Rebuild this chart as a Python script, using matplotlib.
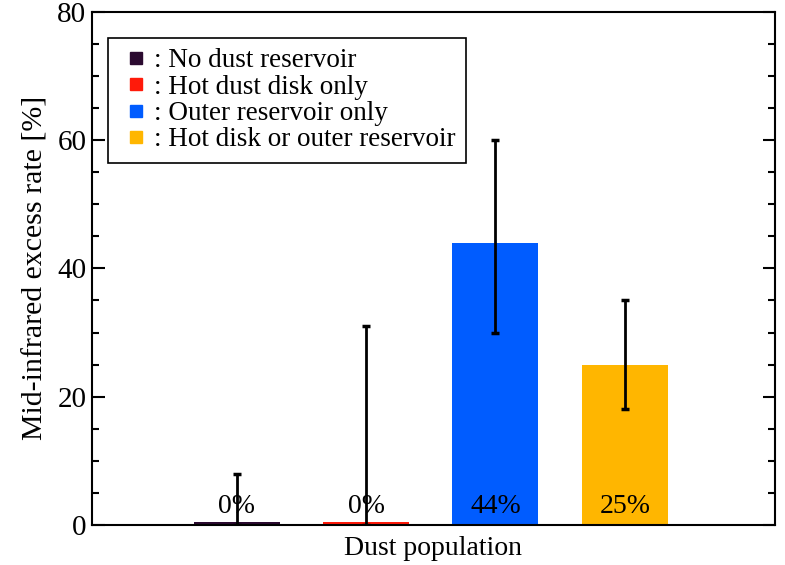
import matplotlib
matplotlib.use("Agg")
import matplotlib.pyplot as plt
from matplotlib.lines import Line2D
from matplotlib.ticker import MultipleLocator

plt.rcParams["font.family"] = ["Liberation Serif", "DejaVu Serif"]
plt.rcParams["mathtext.fontset"] = "stix"

# data
groups = ["No dust reservoir", "Hot dust disk only", "Outer reservoir only",
          "Hot disk or outer reservoir"]
rates = [0.5, 0.5, 44, 25]
err_low = [0, 0, 30, 18]
err_high = [8, 31, 60, 35]
labels = ["0%", "0%", "44%", "25%"]
colors = ["#2b0a30", "#ff1a0a", "#005cff", "#ffb600"]

x = [1, 2, 3, 4]

fig = plt.figure(figsize=(7.85, 5.65), dpi=100)
ax = fig.add_axes([0.117, 0.071, 0.870, 0.908])

ax.bar(x, rates, width=0.665, color=colors, zorder=2)
lo = [r - l for r, l in zip(rates, err_low)]
hi = [h - r for r, h in zip(rates, err_high)]
ax.errorbar(x, rates, yerr=[lo, hi], fmt="none", ecolor="black",
            elinewidth=2, capsize=3, capthick=2.5, zorder=3)

for xi, lab in zip(x, labels):
    ax.text(xi, 2.8, lab, ha="center", va="center", fontsize=20, zorder=4)

ax.set_xlim(-0.12, 5.16)
ax.set_ylim(0, 80)
ax.yaxis.set_major_locator(MultipleLocator(20))
ax.yaxis.set_minor_locator(MultipleLocator(5))
ax.tick_params(axis="y", which="both", direction="in", left=True, right=True,
               labelsize=21, width=1.5, pad=4)
ax.tick_params(axis="y", which="major", length=9)
ax.tick_params(axis="y", which="minor", length=5)
ax.set_xticks([])
for s in ax.spines.values():
    s.set_linewidth(1.5)

ax.set_ylabel("Mid-infrared excess rate [%]", fontsize=21.5, labelpad=6)
ax.set_xlabel("Dust population", fontsize=20, labelpad=8)

handles = [Line2D([], [], marker="s", linestyle="none", color=c, markersize=9)
           for c in colors]
leg = ax.legend(handles, [": " + g for g in groups], loc="upper left",
                bbox_to_anchor=(0.023, 0.95), fontsize=19.5, fancybox=False,
                edgecolor="black", framealpha=1, handletextpad=0.0,
                handlelength=1.3, labelspacing=0.05, borderpad=0.4,
                borderaxespad=0)
leg.get_frame().set_linewidth(1.2)

fig.savefig("out.png", dpi=100)
